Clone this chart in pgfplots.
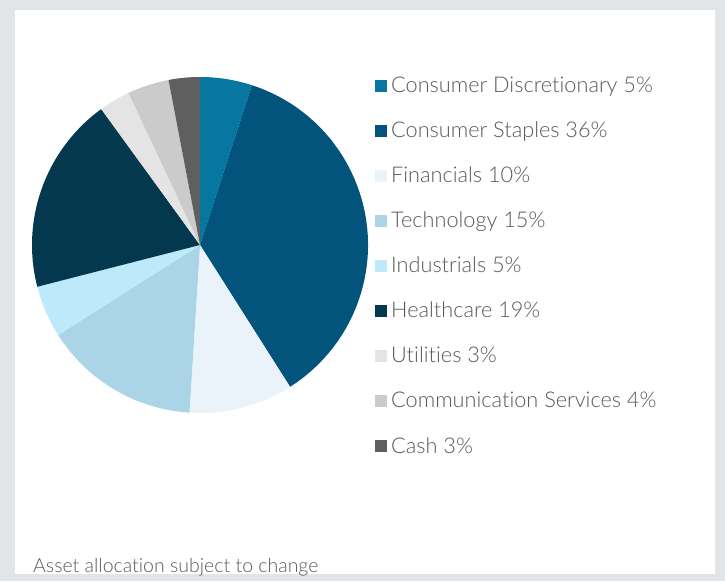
\documentclass[border=0pt]{standalone}
\usepackage{fontspec}
\setmainfont{Lato}[UprightFont=* Light, Ligatures=NoCommon]
\usepackage{pgfplots}
\pgfplotsset{compat=1.18}
\usepackage{pgfplotstable}

% slice colours
\definecolor{cdisc}{HTML}{0677A1}
\definecolor{cstap}{HTML}{03547C}
\definecolor{cfin}{HTML}{EAF3FA}
\definecolor{ctech}{HTML}{ABD4E6}
\definecolor{cind}{HTML}{BDE9FA}
\definecolor{cheal}{HTML}{04384F}
\definecolor{cutil}{HTML}{E4E4E4}
\definecolor{ccomm}{HTML}{CBCBCB}
\definecolor{ccash}{HTML}{5F5F5F}
\definecolor{bgframe}{HTML}{E1E5E8}
\definecolor{txt}{HTML}{58595B}

\pgfplotstableread[col sep=comma]{
label,value,col
Consumer Discretionary,5,cdisc
Consumer Staples,36,cstap
Financials,10,cfin
Technology,15,ctech
Industrials,5,cind
Healthcare,19,cheal
Utilities,3,cutil
Communication Services,4,ccomm
Cash,3,ccash
}\alloc

\begin{document}
\begin{tikzpicture}
\begin{axis}[
  scale only axis,
  width=725pt, height=581pt,
  xmin=0, xmax=725, ymin=0, ymax=581,
  hide axis, clip=false,
]
% frame
\fill[bgframe] (axis cs:0,0) rectangle (axis cs:725,581);
\fill[white] (axis cs:15,7) rectangle (axis cs:715,571);

% pie, clockwise from 12 o'clock
\def\cum{0}
\pgfplotsforeachungrouped \i in {0,...,8}{
  \pgfplotstablegetelem{\i}{value}\of\alloc \let\val\pgfplotsretval
  \pgfplotstablegetelem{\i}{col}\of\alloc \let\col\pgfplotsretval
  \pgfplotstablegetelem{\i}{label}\of\alloc \let\lab\pgfplotsretval
  \pgfmathsetmacro\sa{90-3.6*\cum}
  \pgfmathsetmacro\cum{\cum+\val}
  \pgfmathsetmacro\ea{90-3.6*\cum}
  \pgfmathsetmacro\ly{488-45*\i}
  \edef\temp{%
    \noexpand\fill[\col] (axis cs:200,336) -- ++(\sa:168pt)
      arc[start angle=\sa, end angle=\ea, radius=168pt] -- cycle;
    \noexpand\fill[\col] (axis cs:375,\ly+1) rectangle (axis cs:387,\ly+13);
    \noexpand\node[anchor=base west, inner sep=0pt, text=txt,
      font=\noexpand\fontsize{21.7}{26}\noexpand\selectfont]
      at (axis cs:391,\ly) {\lab\space\val\noexpand\%};
  }
  \temp
}

\node[anchor=base west, inner sep=0pt, text=txt,
  font=\fontsize{19.5}{23}\selectfont]
  at (axis cs:33,9) {Asset allocation subject to change};
\end{axis}
\end{tikzpicture}
\end{document}
